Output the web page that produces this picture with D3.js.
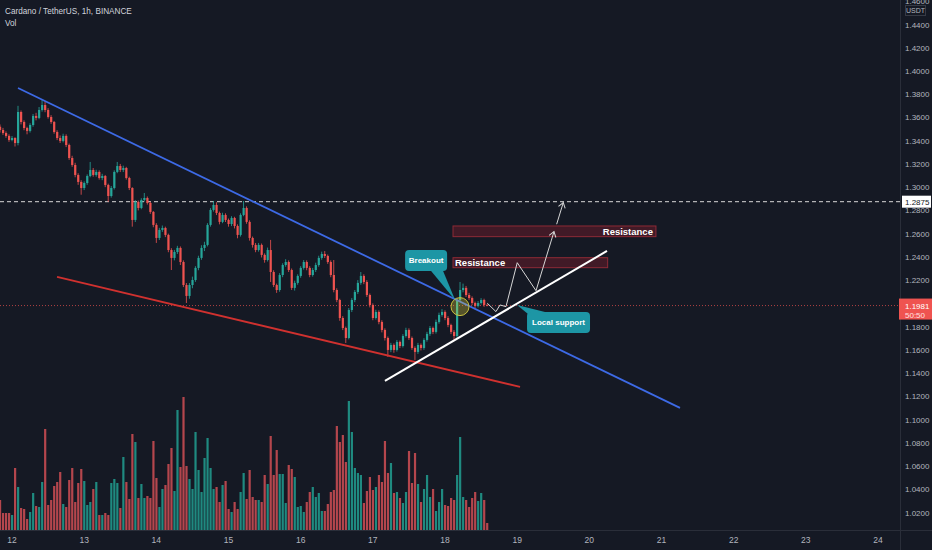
<!DOCTYPE html>
<html>
<head>
<meta charset="utf-8">
<script src="https://cdn.jsdelivr.net/npm/d3@7"></script>
<style>
html, body { margin: 0; padding: 0; background: #151924; }
svg { display: block; font-family: "Liberation Sans", "DejaVu Sans", sans-serif; }
</style>
</head>
<body>
<svg id="chart"></svg>
<script>
// hourly bars, first one starts 4h before day 12
var startDay = 12 - 4 / 24;
var firstOpen = 1.3520;

var closes = [1.3492,1.3466,1.3441,1.3406,1.3423,1.3380,1.3647,1.3561,1.3509,1.3484,
 1.3535,1.3613,1.3596,1.3664,1.3707,1.3664,1.3604,1.3561,1.3475,1.3423,
 1.3398,1.3441,1.3363,1.3251,1.3191,1.3105,1.3045,1.2993,1.3036,1.3096,
 1.3148,1.3105,1.3131,1.3079,1.3096,1.3019,1.2924,1.2993,1.3131,1.3182,
 1.3148,1.3165,1.3079,1.2993,1.2718,1.2873,1.2821,1.2890,1.2907,1.2864,
 1.2787,1.2675,1.2563,1.2632,1.2649,1.2589,1.2459,1.2391,1.2442,1.2477,
 1.2356,1.2158,1.2064,1.2158,1.2201,1.2305,1.2391,1.2477,1.2503,1.2675,
 1.2804,1.2847,1.2778,1.2701,1.2761,1.2718,1.2683,1.2735,1.2666,1.2589,
 1.2761,1.2821,1.2701,1.2563,1.2503,1.2459,1.2503,1.2417,1.2373,1.2459,
 1.2270,1.2158,1.2115,1.2244,1.2330,1.2356,1.2287,1.2133,1.2176,1.2236,
 1.2305,1.2356,1.2305,1.2244,1.2287,1.2330,1.2391,1.2425,1.2408,1.2356,
 1.2244,1.2115,1.2029,1.1874,1.1788,1.1702,1.1943,1.2029,1.2098,1.2176,
 1.2236,1.2184,1.2072,1.1986,1.1874,1.1926,1.1840,1.1771,1.1702,1.1599,
 1.1642,1.1599,1.1668,1.1633,1.1719,1.1771,1.1702,1.1616,1.1582,1.1642,
 1.1616,1.1685,1.1737,1.1788,1.1754,1.1840,1.1900,1.1926,1.1874,1.1814,
 1.1754,1.1719,1.2029,1.2115,1.2133,1.2072,1.2046,1.2003,1.1978,1.2003,
 1.2029,1.1986,1.1981];

var highs = [1.3540,1.3510,1.3480,1.3455,1.3440,1.3430,1.3700,1.3660,1.3575,1.3520,
 1.3550,1.3630,1.3640,1.3690,1.3755,1.3740,1.3680,1.3620,1.3570,1.3490,
 1.3445,1.3460,1.3455,1.3375,1.3270,1.3210,1.3120,1.3060,1.3050,1.3110,
 1.3217,1.3165,1.3150,1.3145,1.3115,1.3105,1.3030,1.3010,1.3145,1.3217,
 1.3200,1.3185,1.3175,1.3090,1.3000,1.2890,1.2885,1.2905,1.2950,1.2920,
 1.2875,1.2795,1.2690,1.2650,1.2670,1.2660,1.2600,1.2475,1.2460,1.2495,
 1.2490,1.2370,1.2175,1.2175,1.2230,1.2320,1.2410,1.2500,1.2530,1.2690,
 1.2820,1.2881,1.2870,1.2790,1.2780,1.2775,1.2730,1.2750,1.2745,1.2680,
 1.2775,1.2881,1.2835,1.2715,1.2575,1.2520,1.2520,1.2515,1.2430,1.2480,
 1.2546,1.2285,1.2170,1.2260,1.2345,1.2380,1.2370,1.2300,1.2195,1.2250,
 1.2320,1.2373,1.2370,1.2320,1.2305,1.2350,1.2410,1.2445,1.2450,1.2420,
 1.2370,1.2373,1.2130,1.2040,1.1890,1.1800,1.1960,1.2045,1.2115,1.2200,
 1.2270,1.2250,1.2200,1.2085,1.2000,1.1945,1.1940,1.1855,1.1785,1.1715,
 1.1660,1.1655,1.1685,1.1680,1.1735,1.1790,1.1785,1.1715,1.1630,1.1660,
 1.1655,1.1700,1.1755,1.1805,1.1800,1.1860,1.1920,1.1950,1.1940,1.1890,
 1.1825,1.1770,1.2045,1.2184,1.2170,1.2150,1.2090,1.2060,1.2015,1.2020,
 1.2045,1.2040,1.1995];

var lows = [1.3470,1.3450,1.3425,1.3390,1.3395,1.3350,1.3360,1.3540,1.3490,1.3455,
 1.3470,1.3520,1.3575,1.3585,1.3650,1.3645,1.3590,1.3545,1.3460,1.3405,
 1.3380,1.3385,1.3345,1.3235,1.3175,1.3085,1.3020,1.2935,1.2975,1.3020,
 1.3085,1.3090,1.3090,1.3065,1.3060,1.3000,1.2873,1.2910,1.2980,1.3120,
 1.3130,1.3130,1.3065,1.2975,1.2660,1.2700,1.2800,1.2810,1.2875,1.2850,
 1.2770,1.2655,1.2520,1.2545,1.2615,1.2570,1.2440,1.2287,1.2370,1.2425,
 1.2330,1.2140,1.2003,1.2040,1.2130,1.2185,1.2285,1.2375,1.2450,1.2490,
 1.2660,1.2790,1.2760,1.2680,1.2690,1.2700,1.2660,1.2665,1.2645,1.2560,
 1.2575,1.2750,1.2685,1.2540,1.2480,1.2440,1.2445,1.2395,1.2350,1.2360,
 1.2184,1.2140,1.2090,1.2100,1.2225,1.2315,1.2270,1.2115,1.2110,1.2160,
 1.2220,1.2290,1.2285,1.2225,1.2230,1.2270,1.2315,1.2375,1.2390,1.2340,
 1.2225,1.2095,1.2010,1.1850,1.1770,1.1659,1.1690,1.1925,1.2010,1.2080,
 1.2160,1.2165,1.2055,1.1965,1.1855,1.1860,1.1820,1.1750,1.1680,1.1539,
 1.1580,1.1575,1.1585,1.1615,1.1620,1.1705,1.1685,1.1600,1.1513,1.1565,
 1.1595,1.1600,1.1670,1.1720,1.1735,1.1740,1.1825,1.1885,1.1855,1.1795,
 1.1735,1.1685,1.1705,1.2010,1.2095,1.2055,1.2030,1.1985,1.1960,1.1965,
 1.1990,1.1970,1.1975];

// volume in millions ADA
var volumes = [3.0,1.7,1.7,1.7,1.5,6.2,4.3,2.2,2.1,1.1,
 1.8,3.7,2.4,2.3,4.8,10.1,2.5,3.0,4.4,4.8,
 5.8,2.6,2.3,5.0,6.2,2.8,4.7,6.1,4.9,2.5,
 2.8,4.1,4.8,1.5,1.5,1.7,1.5,4.7,5.1,4.7,
 2.2,7.3,4.8,3.1,9.6,8.8,3.2,4.6,3.2,3.4,
 3.2,8.9,5.2,2.3,4.1,4.5,6.6,8.2,3.9,12.0,
 6.3,13.3,6.4,5.1,4.1,9.8,6.0,3.8,7.2,9.2,
 6.2,4.1,4.3,2.8,4.5,4.9,2.1,1.8,2.8,2.1,
 3.8,5.7,3.1,6.0,3.3,3.0,3.0,2.8,5.5,4.6,
 9.4,5.5,8.0,5.6,5.6,2.7,6.5,6.1,5.3,2.3,
 2.4,1.8,2.8,3.8,4.3,3.3,3.7,1.9,1.9,2.6,
 3.8,4.0,10.4,8.8,9.5,6.8,12.9,9.8,6.2,5.7,
 5.5,2.7,3.9,5.3,4.0,4.3,5.5,4.8,8.9,5.7,
 6.7,3.7,3.8,3.2,2.7,3.8,7.9,4.7,7.7,4.6,
 2.8,4.1,5.5,3.3,4.1,1.9,2.8,4.1,2.5,2.4,
 3.2,3.0,5.5,9.3,3.3,3.0,2.3,3.2,3.8,2.9,
 3.7,3.0,0.7];

var dayTicks = [12, 13, 14, 15, 16, 17, 18, 19, 20, 21, 22, 23, 24];
var priceTicks = [1.02, 1.04, 1.06, 1.08, 1.10, 1.12, 1.14, 1.16, 1.18, 1.22, 1.24,
                  1.26, 1.28, 1.30, 1.32, 1.34, 1.36, 1.38, 1.40, 1.42, 1.44, 1.46];

// drawings, as [day, price]
var blueLine = [[12.083, 1.3854], [21.256, 1.1100]];
var redLine = [[12.624, 1.2227], [19.040, 1.1281]];
var supportLine = [[17.168, 1.1332], [20.245, 1.2451]];
var pathPlan = [[18.586, 1.2001], [18.706, 1.1929], [18.762, 1.1986], [18.845, 1.1972],
                [19.001, 1.2350], [19.261, 1.2109], [19.510, 1.2617]];
var pathPlan2 = [[19.547, 1.2681], [19.639, 1.2867]];
var zones = [
  { from: 18.111, to: 20.923, top: 1.2666, bottom: 1.2574, label: "Resistance", side: "right" },
  { from: 18.111, to: 20.254, top: 1.2393, bottom: 1.2307, label: "Resistance", side: "left" }
];
var breakoutPoint = [18.208, 1.1972];
var callouts = [
  { label: "Breakout", at: [18.14, 1.2029], box: [-50, -50, 42, 21], tail: [[-24, -29], [-12, -29]] },
  { label: "Local support", at: [18.998, 1.1986], box: [10, 7, 63, 21], tail: [[11, 9], [28, 7]] }
];
var levelPrice = 1.2875;
var lastPrice = 1.1981;
var countdown = "50:50";

var W = 932, H = 550, axisX = 900, axisY = 530;
var svg = d3.select("#chart").attr("width", W).attr("height", H);
svg.append("rect").attr("width", W).attr("height", H).attr("fill", "#151924");

var x = d3.scaleLinear().domain([12, 24]).range([12, 878]);
var y = d3.scaleLinear().domain([1.02, 1.44]).range([512.5, 24.5]);
var yv = d3.scaleLinear().domain([0, 13.3]).range([axisY, 397]);

var defs = svg.append("defs");
defs.append("clipPath").attr("id", "plot")
    .append("rect").attr("width", axisX).attr("height", axisY);
defs.append("marker").attr("id", "arr").attr("viewBox", "-6 -5 8 10")
    .attr("markerWidth", 8).attr("markerHeight", 10).attr("orient", "auto")
    .attr("markerUnits", "userSpaceOnUse")
    .append("path").attr("d", "M-5,-3.5 L0,0 L-5,3.5")
    .attr("fill", "none").attr("stroke", "#d6d6d6").attr("stroke-width", 1);

var bars = closes.map(function(c, i) {
  var o = i == 0 ? firstOpen : closes[i - 1];
  return { t: startDay + i / 24, o: o, h: highs[i], l: lows[i], c: c, v: volumes[i], up: c >= o };
});

var plot = svg.append("g").attr("clip-path", "url(#plot)");

// volume
plot.append("g").selectAll("rect").data(bars).enter().append("rect")
    .attr("x", function(d) { return x(d.t) - 1; })
    .attr("y", function(d) { return yv(d.v); })
    .attr("width", 2.2)
    .attr("height", function(d) { return axisY - yv(d.v); })
    .attr("fill", function(d) { return d.up ? "#1f8a80" : "#b4464d"; });

// level lines
plot.append("line").attr("x1", 0).attr("x2", axisX)
    .attr("y1", y(levelPrice)).attr("y2", y(levelPrice))
    .attr("stroke", "#d8d8d8").attr("stroke-dasharray", "4,3");
plot.append("line").attr("x1", 0).attr("x2", axisX)
    .attr("y1", y(lastPrice)).attr("y2", y(lastPrice))
    .attr("stroke", "#ef5350").attr("stroke-opacity", 0.7).attr("stroke-dasharray", "1,2");

// candles
var candle = plot.append("g").selectAll("g").data(bars).enter().append("g");
candle.append("line")
    .attr("x1", function(d) { return x(d.t); }).attr("x2", function(d) { return x(d.t); })
    .attr("y1", function(d) { return y(d.h); }).attr("y2", function(d) { return y(d.l); })
    .attr("stroke", function(d) { return d.up ? "#26a69a" : "#ef5350"; }).attr("stroke-width", 0.8);
candle.append("rect")
    .attr("x", function(d) { return x(d.t) - 1; })
    .attr("y", function(d) { return y(Math.max(d.o, d.c)); })
    .attr("width", 2.2)
    .attr("height", function(d) { return Math.max(0.8, Math.abs(y(d.o) - y(d.c))); })
    .attr("fill", function(d) { return d.up ? "#26a69a" : "#ef5350"; });

// resistance zones
zones.forEach(function(z) {
  plot.append("rect")
      .attr("x", x(z.from)).attr("y", y(z.top))
      .attr("width", x(z.to) - x(z.from)).attr("height", y(z.bottom) - y(z.top))
      .attr("fill", "rgba(150,30,45,0.35)").attr("stroke", "#8e2a36").attr("stroke-width", 1);
  plot.append("text")
      .attr("x", z.side == "right" ? x(z.to) - 3 : x(z.from) + 2)
      .attr("y", (y(z.top) + y(z.bottom)) / 2 + 3.5)
      .attr("text-anchor", z.side == "right" ? "end" : "start")
      .attr("fill", "#ffffff").attr("font-size", 9.5).attr("font-weight", "bold")
      .text(z.label);
});

var line = d3.line().x(function(d) { return x(d[0]); }).y(function(d) { return y(d[1]); });

plot.append("path").attr("d", line(blueLine)).attr("stroke", "#3d6ae6").attr("stroke-width", 1.8).attr("fill", "none");
plot.append("path").attr("d", line(redLine)).attr("stroke", "#d0312f").attr("stroke-width", 1.8).attr("fill", "none");
plot.append("path").attr("d", line(supportLine)).attr("stroke", "#ffffff").attr("stroke-width", 2).attr("fill", "none");
plot.append("path").attr("d", line(pathPlan)).attr("stroke", "#d6d6d6").attr("stroke-width", 1)
    .attr("fill", "none").attr("marker-end", "url(#arr)");
plot.append("path").attr("d", line(pathPlan2)).attr("stroke", "#d6d6d6").attr("stroke-width", 1)
    .attr("fill", "none").attr("marker-end", "url(#arr)");

// breakout circle
plot.append("circle").attr("cx", x(breakoutPoint[0])).attr("cy", y(breakoutPoint[1])).attr("r", 9)
    .attr("fill", "rgba(250,235,60,0.28)").attr("stroke", "#c9c23e").attr("stroke-width", 1);

// callouts
callouts.forEach(function(c) {
  var ax = x(c.at[0]), ay = y(c.at[1]);
  var g = plot.append("g");
  g.append("path")
      .attr("d", "M" + (ax + c.tail[0][0]) + "," + (ay + c.tail[0][1]) + " L" + ax + "," + ay +
                 " L" + (ax + c.tail[1][0]) + "," + (ay + c.tail[1][1]) + " Z")
      .attr("fill", "#1d96a5");
  g.append("rect").attr("x", ax + c.box[0]).attr("y", ay + c.box[1])
      .attr("width", c.box[2]).attr("height", c.box[3]).attr("rx", 4)
      .attr("fill", "#1d96a5");
  g.append("text").attr("x", ax + c.box[0] + c.box[2] / 2).attr("y", ay + c.box[1] + c.box[3] / 2 + 3)
      .attr("text-anchor", "middle").attr("fill", "#ffffff").attr("font-size", 8)
      .attr("font-weight", "bold").text(c.label);
});

// axes
svg.append("line").attr("x1", axisX + 0.5).attr("x2", axisX + 0.5).attr("y1", 0).attr("y2", H)
    .attr("stroke", "#2a2e39");
svg.append("line").attr("x1", 0).attr("x2", W).attr("y1", axisY + 0.5).attr("y2", axisY + 0.5)
    .attr("stroke", "#2a2e39");

svg.append("g").selectAll("text").data(priceTicks).enter().append("text")
    .attr("x", 905).attr("y", function(d) { return y(d) + 3; })
    .attr("fill", "#b2b5be").attr("font-size", 8)
    .text(function(d) { return d.toFixed(4); });

svg.append("g").selectAll("text").data(dayTicks).enter().append("text")
    .attr("x", function(d) { return x(d); }).attr("y", 543)
    .attr("text-anchor", "middle").attr("fill", "#b2b5be").attr("font-size", 8.5)
    .text(function(d) { return d; });

// USDT tag
svg.append("rect").attr("x", 905.5).attr("y", 5.5).attr("width", 20).attr("height", 10)
    .attr("fill", "#151924").attr("stroke", "#363a45");
svg.append("text").attr("x", 915.5).attr("y", 13).attr("text-anchor", "middle")
    .attr("fill", "#b2b5be").attr("font-size", 7).text("USDT");

// level label
svg.append("rect").attr("x", 902).attr("y", y(levelPrice) - 6).attr("width", 29).attr("height", 12)
    .attr("fill", "#ffffff");
svg.append("text").attr("x", 905).attr("y", y(levelPrice) + 3)
    .attr("fill", "#131722").attr("font-size", 8).text(levelPrice.toFixed(4));

// last price label
svg.append("rect").attr("x", 899).attr("y", y(lastPrice) - 7).attr("width", 33).attr("height", 21)
    .attr("fill", "#ef5350");
svg.append("text").attr("x", 905).attr("y", y(lastPrice) + 3)
    .attr("fill", "#ffffff").attr("font-size", 8).text(lastPrice.toFixed(4));
svg.append("text").attr("x", 905).attr("y", y(lastPrice) + 12)
    .attr("fill", "#ffe0e0").attr("font-size", 8).text(countdown);

// legend
svg.append("text").attr("x", 5).attr("y", 14).attr("fill", "#d1d4dc").attr("font-size", 8.2)
    .text("Cardano / TetherUS, 1h, BINANCE");
svg.append("text").attr("x", 5).attr("y", 26).attr("fill", "#d1d4dc").attr("font-size", 8.2)
    .text("Vol");
</script>
</body>
</html>
